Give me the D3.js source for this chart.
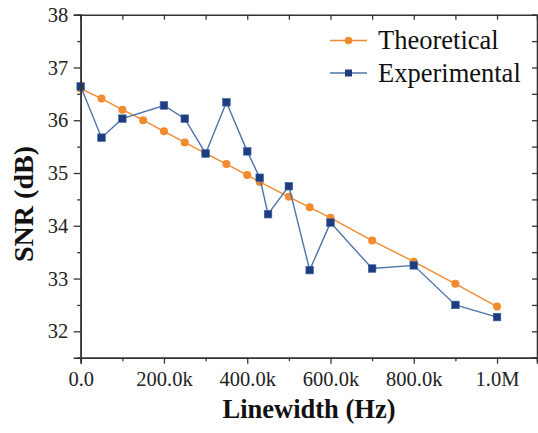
<!DOCTYPE html>
<html>
<head>
<meta charset="utf-8">
<script src="https://cdn.jsdelivr.net/npm/d3@7"></script>
<style>
  html, body { margin: 0; padding: 0; background: #fff; }
  svg { display: block; }
</style>
</head>
<body>
<svg id="chart"></svg>
<script>
// linewidth in Hz, SNR in dB
const theoX = [0, 50e3, 100e3, 150e3, 200e3, 250e3, 300e3, 350e3, 400e3, 430e3, 500e3, 550e3, 600e3, 700e3, 800e3, 900e3, 1000e3];
const theoY = [36.6, 36.41, 36.2, 36.0, 35.79, 35.58, 35.37, 35.17, 34.96, 34.83, 34.55, 34.35, 34.15, 33.72, 33.32, 32.9, 32.47];
const expX = [0, 50e3, 100e3, 200e3, 250e3, 300e3, 350e3, 400e3, 430e3, 450e3, 500e3, 550e3, 600e3, 700e3, 800e3, 900e3, 1000e3];
const expY = [36.64, 35.67, 36.03, 36.28, 36.03, 35.37, 36.34, 35.41, 34.91, 34.22, 34.75, 33.16, 34.06, 33.19, 33.25, 32.5, 32.27];
const xTicks = [0, 200e3, 400e3, 600e3, 800e3, 1000e3];
const xTickLabels = ["0.0", "200.0k", "400.0k", "600.0k", "800.0k", "1.0M"];
const xMinor = [100e3, 300e3, 500e3, 700e3, 900e3];
const yTicks = [32, 33, 34, 35, 36, 37, 38];
const yMinor = [31.5, 32.5, 33.5, 34.5, 35.5, 36.5, 37.5];
const seriesNames = ["Theoretical", "Experimental"];

const width = 538;
const height = 433;
const margin = ({top: 14.7, right: 1, bottom: 75.3, left: 80.7});

const orange = "#f28a2e";
const lineBlue = "#4a74aa";
const navy = "#1d3c82";
const axisColor = "#333";
const serif = "'Liberation Serif', 'Times New Roman', serif";

const svg = d3.select("#chart")
    .attr("width", width)
    .attr("height", height)
    .style("font-family", serif);

const x = d3.scaleLinear()
    .domain([0, 1096e3])
    .range([margin.left, width - margin.right]);

const y = d3.scaleLinear()
    .domain([31.5, 38])
    .range([height - margin.bottom, margin.top]);

const line = d3.line().x(d => x(d[0])).y(d => y(d[1]));
const theo = d3.zip(theoX, theoY);
const exp = d3.zip(expX, expY);

// theoretical line + circles
svg.append("path")
    .datum(theo)
    .attr("fill", "none")
    .attr("stroke", orange)
    .attr("stroke-width", 1.4)
    .attr("d", line);

svg.append("g").selectAll("circle")
    .data(theo)
    .join("circle")
    .attr("cx", d => x(d[0]))
    .attr("cy", d => y(d[1]))
    .attr("r", 4)
    .attr("fill", orange);

// experimental line + squares
svg.append("path")
    .datum(exp)
    .attr("fill", "none")
    .attr("stroke", lineBlue)
    .attr("stroke-width", 1.4)
    .attr("d", line);

const sq = 7.6;
svg.append("g").selectAll("rect")
    .data(exp)
    .join("rect")
    .attr("x", d => x(d[0]) - sq / 2)
    .attr("y", d => y(d[1]) - sq / 2)
    .attr("width", sq)
    .attr("height", sq)
    .attr("fill", navy)
    .attr("stroke", "#3f64a0")
    .attr("stroke-width", 0.6);

// axes
const bottomAxis = svg.append("g")
    .attr("transform", `translate(0,${y.range()[0]})`)
    .call(d3.axisBottom(x).tickValues(xTicks).tickSize(6).tickFormat((d, i) => xTickLabels[i]));
svg.append("g")
    .attr("transform", `translate(0,${y.range()[0]})`)
    .call(d3.axisBottom(x).tickValues(xMinor).tickSize(3.5).tickFormat(""));

const leftAxis = svg.append("g")
    .attr("transform", `translate(${x.range()[0]},0)`)
    .call(d3.axisLeft(y).tickValues(yTicks).tickSize(7).tickFormat(d3.format("d")));
svg.append("g")
    .attr("transform", `translate(${x.range()[0]},0)`)
    .call(d3.axisLeft(y).tickValues(yMinor).tickSize(3.5).tickFormat(""));

// mirrored top and right axes, ticks pointing inwards
svg.append("g")
    .attr("transform", `translate(0,${y.range()[1]})`)
    .call(d3.axisBottom(x).tickValues(xTicks.concat(xMinor)).tickSize(5).tickFormat(""));
svg.append("g")
    .attr("transform", `translate(${x.range()[1]},0)`)
    .call(d3.axisLeft(y).tickValues(yTicks.concat(yMinor)).tickSize(5).tickFormat(""));

svg.selectAll(".domain")
    .attr("stroke", axisColor)
    .attr("stroke-width", 1.6);
svg.selectAll(".tick line")
    .attr("stroke", axisColor)
    .attr("stroke-width", 1.3);
svg.selectAll(".tick text")
    .attr("fill", "#222")
    .style("font-family", serif)
    .style("font-size", "20.5px");
bottomAxis.selectAll(".tick text").attr("dy", "0.93em");
leftAxis.selectAll(".tick text").attr("dx", "-0.12em");

// axis titles
svg.append("text")
    .attr("x", 309)
    .attr("y", 418)
    .attr("text-anchor", "middle")
    .style("font-size", "26.5px")
    .style("font-weight", "bold")
    .attr("fill", "#111")
    .text("Linewidth (Hz)");

svg.append("text")
    .attr("transform", "translate(33,204) rotate(-90)")
    .attr("text-anchor", "middle")
    .style("font-size", "28px")
    .style("font-weight", "bold")
    .attr("fill", "#111")
    .text("SNR (dB)");

// legend
const legend = svg.append("g");
const legendRows = [
    {name: seriesNames[0], color: orange, shape: "circle", cy: 40.5},
    {name: seriesNames[1], color: lineBlue, shape: "square", cy: 73}
];
legendRows.forEach(r => {
    legend.append("line")
        .attr("x1", 330).attr("x2", 367)
        .attr("y1", r.cy).attr("y2", r.cy)
        .attr("stroke", r.color)
        .attr("stroke-width", 1.4);
    if (r.shape === "circle") {
        legend.append("circle")
            .attr("cx", 348.5).attr("cy", r.cy).attr("r", 3.8)
            .attr("fill", orange);
    } else {
        legend.append("rect")
            .attr("x", 348.5 - 3.5).attr("y", r.cy - 3.5)
            .attr("width", 7).attr("height", 7)
            .attr("fill", navy);
    }
    legend.append("text")
        .attr("x", 378)
        .attr("y", r.cy)
        .attr("dy", "0.33em")
        .style("font-size", "26.5px")
        .attr("fill", "#111")
        .text(r.name);
});
</script>
</body>
</html>
